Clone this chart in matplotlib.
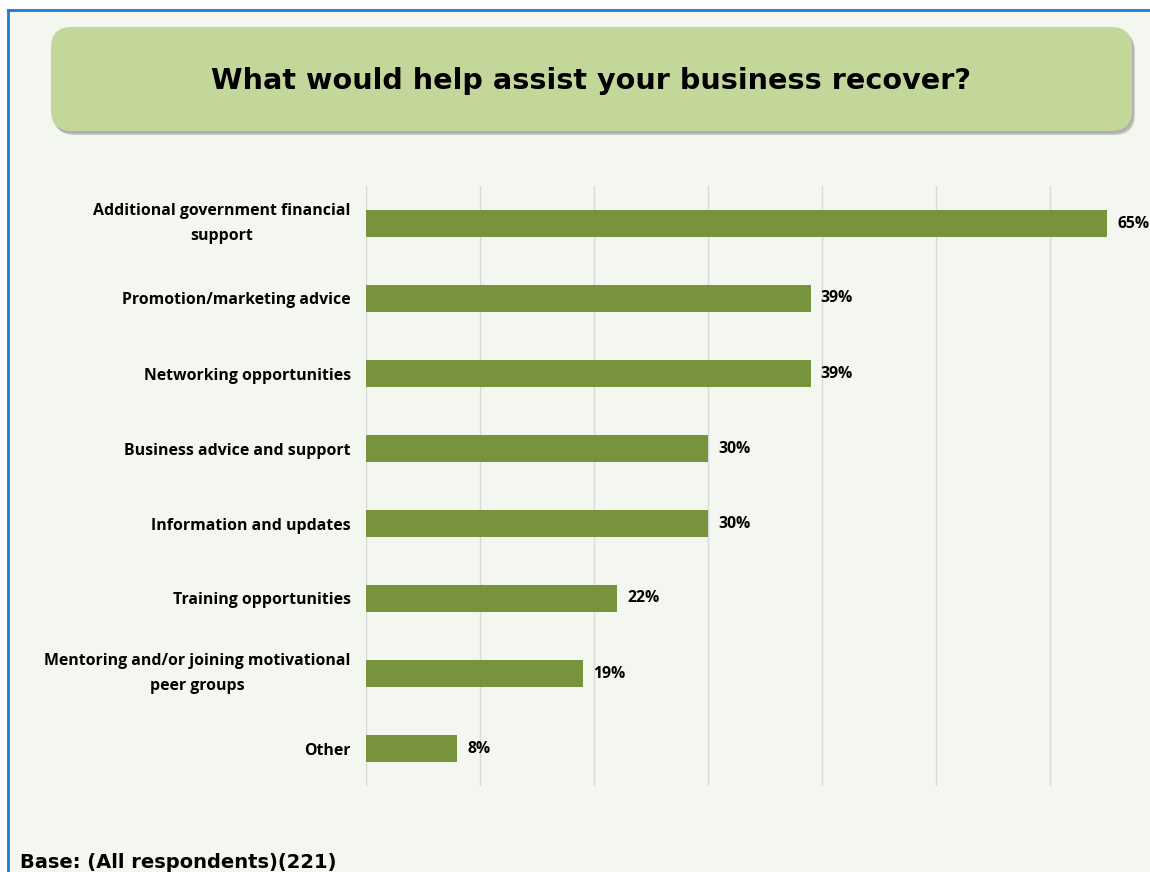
import matplotlib
matplotlib.use("Agg")
import matplotlib.pyplot as plt
from matplotlib.patches import FancyBboxPatch, Rectangle
from matplotlib.lines import Line2D

categories = [
    "Additional government financial\nsupport",
    "Promotion/marketing advice",
    "Networking opportunities",
    "Business advice and support",
    "Information and updates",
    "Training opportunities",
    "Mentoring and/or joining motivational\npeer groups",
    "Other",
]
values = [65, 39, 39, 30, 30, 22, 19, 8]
xticks = [0, 10, 20, 30, 40, 50, 60]

TITLE = "What would help assist your business recover?"
BASE = "Base: (All respondents)(221)"

BAR = "#77933C"
BG = "#F4F7EF"
BOX = "#C4D79B"
W, H = 1150, 872

fig = plt.figure(figsize=(W / 100, H / 100), dpi=100)
fig.patch.set_facecolor("white")

# panel background and blue frame
fig.patches.append(Rectangle((8 / W, 0), 1, 1 - 10 / H, transform=fig.transFigure,
                             facecolor=BG, edgecolor="none", zorder=-10))
fig.add_artist(Line2D([8 / W, 1], [1 - 10 / H] * 2, transform=fig.transFigure,
                      color="#1F78D1", lw=2))
fig.add_artist(Line2D([8 / W] * 2, [0, 1 - 10 / H], transform=fig.transFigure,
                      color="#1F78D1", lw=2))

# title box with soft shadow
bx0, by0, bw, bh = 51 / W, 1 - 131 / H, (1132 - 51) / W, (131 - 27) / H
for i, a in enumerate([0.18, 0.25, 0.35]):
    fig.patches.append(FancyBboxPatch((bx0 + (1 + i) / W, by0 - (2 + i) / H), bw, bh,
                                      boxstyle="round,pad=0,rounding_size=0.018",
                                      transform=fig.transFigure, facecolor="#808080",
                                      edgecolor="none", alpha=a, zorder=1,
                                      mutation_aspect=W / H))
fig.patches.append(FancyBboxPatch((bx0, by0), bw, bh,
                                  boxstyle="round,pad=0,rounding_size=0.018",
                                  transform=fig.transFigure, facecolor=BOX,
                                  edgecolor="none", zorder=2,
                                  mutation_aspect=W / H))
fig.text(591 / W, 1 - 81 / H, TITLE, ha="center", va="center",
         fontsize=20.6, fontweight="bold", family="DejaVu Sans", zorder=3)

ax = fig.add_axes([366 / W, 1 - 786 / H, 798 / W, 600 / H], zorder=5)
ax.set_facecolor("none")
y = list(range(len(categories)))
ax.barh(y, values, height=0.35, color=BAR, zorder=2)
for yi, v in zip(y, values):
    ax.text(v + 0.9, yi, f"{v}%", va="center", ha="left",
            fontsize=11.3, fontweight="bold", family="Open Sans")
ax.set_xlim(0, 70)
ax.set_ylim(len(categories) - 0.5, -0.5)
ax.set_xticks(xticks)
ax.xaxis.grid(True, color="#D9D9D9", lw=1)
ax.set_axisbelow(True)
ax.set_yticks(y)
ax.set_yticklabels(categories, fontsize=11.4, fontweight="bold",
                   family="Open Sans")
for lab in ax.get_yticklabels():
    lab.set_multialignment("center")
    lab.set_linespacing(1.75)
    if "\n" in lab.get_text():
        lab.set_va("center")
ax.tick_params(axis="y", length=0, pad=11)
ax.tick_params(axis="x", length=0, labelbottom=False)
for s in ax.spines.values():
    s.set_visible(False)

fig.text(20 / W, 1 - 862 / H, BASE, ha="left", va="center",
         fontsize=14, fontweight="bold", family="DejaVu Sans")

fig.savefig("out.png", dpi=100)
